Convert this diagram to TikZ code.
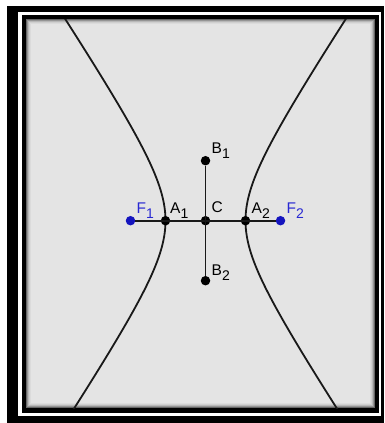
\documentclass[tikz,border=0pt]{standalone}
\usepackage{fontspec}
\setmainfont{Liberation Sans}
\definecolor{gbg}{RGB}{228,228,228}
\definecolor{fblue}{RGB}{20,20,190}
\definecolor{lblue}{RGB}{40,40,210}
\newcommand\sbs[1]{\raisebox{-5.5pt}{\fontsize{14}{14}\selectfont #1}}
\begin{document}
\begin{tikzpicture}[x=1pt,y=-1pt,
  pt/.style={circle,fill=black,inner sep=0pt,minimum size=9.5pt},
  fpt/.style={pt,fill=fblue},
  lbl/.style={anchor=base west,inner sep=0pt,font=\fontsize{15.5}{15.5}\selectfont},
  curve/.style={line width=1.8pt,black!90},
  seg/.style={line width=1.9pt,black!90}]
\useasboundingbox (0,0) rectangle (384,423);
\fill[white] (0,0) rectangle (384,423);
% frame
\fill[black] (7,6) rectangle (384,423);
\fill[white] (18,12) rectangle (381,416);
\fill[black] (22,15) rectangle (379,413);
\fill[black!60] (26,19) rectangle (375,408);
\fill[black!42] (27,20) rectangle (374,407);
\fill[black!28] (28,21) rectangle (373,406);
\fill[black!19] (29,22) rectangle (372,405);
\fill[black!14] (30,23) rectangle (371,404);
\fill[gbg] (31,24) rectangle (370,403);
% hyperbola
\begin{scope}
\clip (26,19) rectangle (375,408);
\draw[curve] plot[domain=-2.2:2.2,samples=120,smooth] ({205.5-40*cosh(\x)},{220.7+60*sinh(\x)});
\draw[curve] plot[domain=-2.2:2.2,samples=120,smooth] ({205.5+40*cosh(\x)},{220.7+60*sinh(\x)});
\end{scope}
% points
\node[fpt] (F1) at (130.5,220.7) {};
\node[pt] (A1) at (165.5,220.7) {};
\node[pt] (C) at (205.5,220.7) {};
\node[pt] (A2) at (245.5,220.7) {};
\node[fpt] (F2) at (280.5,220.7) {};
\node[pt] (B1) at (205.5,160.7) {};
\node[pt] (B2) at (205.5,280.7) {};
% connectors
\draw[seg] (F1) -- (F2);
\draw[seg] (B1) -- (B2);
% labels
\node[lbl,text=lblue] (lF1) at (136.5,213) {F\sbs{1}};
\node[lbl] (lA1) at (170,213) {A\sbs{1}};
\node[lbl] (lC) at (211.5,212.5) {C};
\node[lbl] (lA2) at (251.5,213) {A\sbs{2}};
\node[lbl,text=lblue] (lF2) at (286.5,213) {F\sbs{2}};
\node[lbl] (lB1) at (211.5,153) {B\sbs{1}};
\node[lbl] (lB2) at (211.5,275) {B\sbs{2}};
\end{tikzpicture}
\end{document}
